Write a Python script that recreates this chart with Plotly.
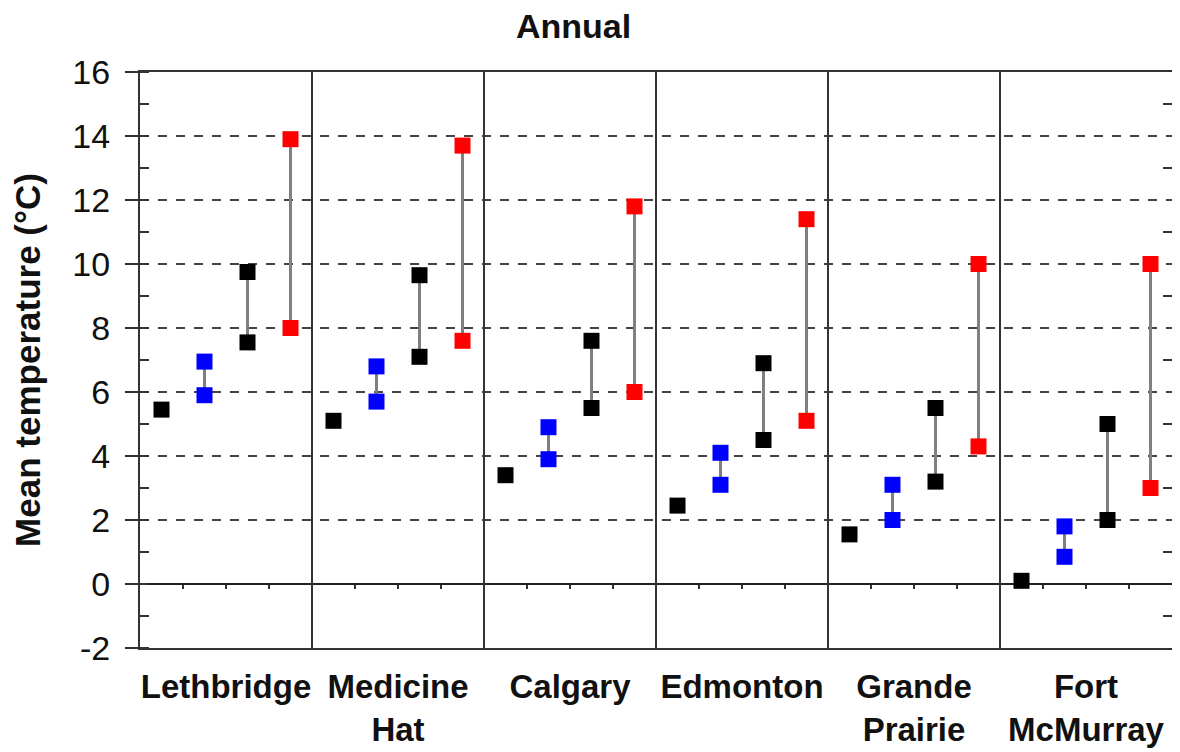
import plotly.graph_objects as go

cities = ["Lethbridge", "Medicine<br>Hat", "Calgary", "Edmonton", "Grande<br>Prairie", "Fort<br>McMurray"]
observed = [5.45, 5.1, 3.4, 2.45, 1.55, 0.1]
blue_low = [5.9, 5.7, 3.9, 3.1, 2.0, 0.85]
blue_high = [6.95, 6.8, 4.9, 4.1, 3.1, 1.8]
black_low = [7.55, 7.1, 5.5, 4.5, 3.2, 2.0]
black_high = [9.75, 9.65, 7.6, 6.9, 5.5, 5.0]
red_low = [8.0, 7.6, 6.0, 5.1, 4.3, 3.0]
red_high = [13.9, 13.7, 11.8, 11.4, 10.0, 10.0]
y_ticks = [-2, 0, 2, 4, 6, 8, 10, 12, 14, 16]

n = len(cities)
nslots = 4
FONT = "Liberation Sans, Arial, sans-serif"
AX = "#333333"

def xs(slot):
    return [i + (slot + 0.5) / nslots for i in range(n)]

fig = go.Figure()

ranges = [(1, blue_low, blue_high, "#0000ff"),
          (2, black_low, black_high, "#000000"),
          (3, red_low, red_high, "#ff0000")]

# connecting lines
for slot, lo, hi, col in ranges:
    lx, ly = [], []
    for x, a, b in zip(xs(slot), lo, hi):
        lx += [x, x, None]
        ly += [a, b, None]
    fig.add_trace(go.Scatter(x=lx, y=ly, mode="lines",
                             line=dict(color="#808080", width=3),
                             hoverinfo="skip", showlegend=False))

# markers
fig.add_trace(go.Scatter(x=xs(0), y=observed, mode="markers",
                         marker=dict(symbol="square", size=16, color="#000000"),
                         showlegend=False))
for slot, lo, hi, col in ranges:
    fig.add_trace(go.Scatter(x=xs(slot) + xs(slot), y=lo + hi, mode="markers",
                             marker=dict(symbol="square", size=16, color=col),
                             showlegend=False))

# group separators
for i in range(1, n):
    fig.add_shape(type="line", x0=i, x1=i, y0=0, y1=1, xref="x", yref="paper",
                  line=dict(color=AX, width=2), layer="above")

# small ticks on zero line
ztick_x = [i + k / nslots for i in range(n) for k in range(1, nslots)]

# chart title as annotation
fig.add_annotation(text="<b>Annual</b>", xref="paper", yref="paper",
                   x=(573 - 8 - 132) / (1180 - 132 - 16), xanchor="center",
                   y=1 + (64 - 18) / (752 - 64 - 112), yanchor="middle",
                   showarrow=False, font=dict(size=34, family=FONT, color="#111111"))

fig.update_layout(
    width=1180, height=752,
    margin=dict(l=132, r=16, t=64, b=112),
    plot_bgcolor="white", paper_bgcolor="white",
    font=dict(family=FONT, color="#000000"),
    xaxis=dict(range=[0, n], tickvals=[i + 0.5 for i in range(n)],
               ticktext=["<b>%s</b>" % c for c in cities],
               tickfont=dict(size=33, family=FONT, color="#111111"),
               ticks="", showgrid=False, zeroline=False, automargin=False,
               ticklabelstandoff=8,
               showline=True, linecolor=AX, linewidth=2, mirror=True),
    xaxis2=dict(range=[0, n], overlaying="x", anchor="free", position=2 / 18,
                tickvals=ztick_x, ticks="outside", ticklen=4, tickwidth=1.5,
                tickcolor=AX, showticklabels=False, showgrid=False,
                zeroline=False, showline=False),
    yaxis=dict(range=[-2, 16], tickvals=y_ticks, ticktext=[str(v) for v in y_ticks],
               tickfont=dict(size=34, family=FONT, color="#111111"),
               ticks="outside", ticklen=13, tickwidth=2, tickcolor=AX,
               ticklabelstandoff=8, automargin=False,
               showgrid=True, gridcolor="#444444", gridwidth=1.5, griddash="dash",
               zeroline=True, zerolinecolor="#222222", zerolinewidth=2,
               showline=True, linecolor=AX, linewidth=2, mirror=True,
               minor=dict(dtick=1, tick0=-1, ticks="inside", ticklen=9, tickwidth=2,
                          tickcolor=AX, showgrid=False),
               title=dict(text="<b>Mean temperature (°C)</b>", standoff=22,
                          font=dict(size=35, family=FONT, color="#111111"))),
    yaxis2=dict(range=[-2, 16], overlaying="y", side="right", anchor="x",
                showticklabels=False, ticks="", showgrid=False, zeroline=False,
                minor=dict(dtick=1, tick0=-1, ticks="inside", ticklen=9, tickwidth=2,
                           tickcolor=AX, showgrid=False)),
    yaxis3=dict(range=[-2, 16], overlaying="y", side="left", anchor="x",
                tickvals=y_ticks, ticks="inside", ticklen=9, tickwidth=2, tickcolor=AX,
                showticklabels=False, showgrid=False, zeroline=False, showline=False),
)

# dummy traces to activate extra axes
fig.add_trace(go.Scatter(x=[None], y=[None], xaxis="x2", yaxis="y2", showlegend=False))
fig.add_trace(go.Scatter(x=[None], y=[None], xaxis="x", yaxis="y3", showlegend=False))

fig.write_html("out.html")
